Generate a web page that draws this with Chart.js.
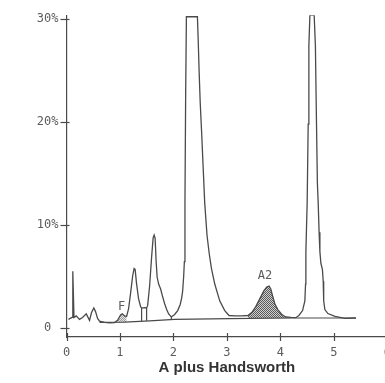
<!DOCTYPE html>
<html>
<head>
<meta charset="utf-8">
<script src="https://cdn.jsdelivr.net/npm/chart.js@4/dist/chart.umd.min.js"></script>
<style>
  html, body { margin: 0; padding: 0; background: #fff; overflow: hidden; }
  .chart-wrap { width: 400px; height: 383px; }
</style>
</head>
<body>
<div class="chart-wrap"><canvas id="chart" width="400" height="383"></canvas></div>
<script>
// trace: time (min) and % of total
const signalTimes = [
  0.037, 0.103, 0.118, 0.140, 0.182, 0.243, 0.300, 0.369, 0.431, 0.468, 0.511, 0.543, 0.581, 0.618,
  0.712, 0.805, 0.899, 0.955, 1.011, 1.043, 1.086, 1.124, 1.161, 1.199, 1.236, 1.264, 1.283, 1.311,
  1.348, 1.386, 1.404, 1.461, 1.498, 1.517, 1.554, 1.592, 1.620, 1.639, 1.657, 1.676, 1.695, 1.723,
  1.760, 1.798, 1.835, 1.873, 1.910, 1.961, 2.022, 2.079, 2.125, 2.154, 2.172, 2.191, 2.204, 2.215,
  2.228, 2.242, 2.448, 2.463, 2.481, 2.500, 2.528, 2.556, 2.584, 2.627, 2.669, 2.710, 2.772, 2.865,
  2.959, 3.039, 3.146, 3.277, 3.390, 3.464, 3.539, 3.614, 3.689, 3.745, 3.788, 3.820, 3.858, 3.895,
  3.951, 4.026, 4.101, 4.195, 4.288, 4.345, 4.414, 4.457, 4.470, 4.476, 4.500, 4.519, 4.532, 4.551,
  4.631, 4.654, 4.672, 4.691, 4.706, 4.723, 4.738, 4.757, 4.785, 4.800, 4.809, 4.831, 4.888, 5.019,
  5.206, 5.412
];
const signalPercent = [
  0.81, 1.00, 5.49, 1.00, 1.15, 0.81, 1.00, 1.35, 0.72, 1.48, 1.93, 1.57, 0.91, 0.65,
  0.52, 0.48, 0.50, 0.72, 1.24, 1.35, 1.15, 1.10, 1.86, 3.39, 5.01, 5.77, 5.68, 4.25,
  2.81, 2.05, 1.91, 1.96, 1.93, 2.15, 4.06, 6.92, 8.73, 9.02, 8.73, 6.44, 4.91, 4.25,
  3.77, 3.01, 2.34, 1.77, 1.34, 1.05, 1.29, 1.67, 2.24, 2.91, 3.58, 5.01, 6.44, 12.17,
  22.66, 30.25, 30.25, 27.91, 24.76, 21.90, 18.85, 15.51, 12.17, 9.02, 7.20, 5.77, 4.25, 2.62,
  1.67, 1.19, 1.15, 1.15, 1.19, 1.48, 2.05, 2.81, 3.58, 3.96, 4.06, 3.77, 3.01, 2.34,
  1.77, 1.29, 1.05, 1.00, 0.98, 1.19, 1.67, 2.62, 4.25, 7.40, 12.17, 19.80, 27.43, 30.40,
  30.40, 27.43, 20.75, 14.07, 12.17, 9.30, 7.40, 6.25, 5.68, 4.53, 2.62, 1.77, 1.38, 1.10,
  0.91, 0.95
];

const baselineTimes = [0.618, 1.086, 1.554, 2.022, 3.052, 4.176, 5.412];
const baselinePercent = [0.52, 0.55, 0.67, 0.81, 0.88, 0.95, 0.95];

// drop lines from valleys down to the baseline
const dropTimes = [1.404, 1.498, 1.961];
const dropTops = [1.91, 1.93, 1.05];
const dropBottoms = [0.63, 0.67, 0.80];

// shaded peaks: name, time range, baseline level, label position
const peakNames = [`F`, `A2`];
const peakStart = [0.955, 3.390];
const peakEnd = [1.124, 4.195];
const peakFloor = [0.54, 0.93];
const labelTimes = [1.03, 3.71];
const labelPercent = [2.05, 5.0];

const yTicks = [0, 10, 20, 30];
const xTicks = [0, 1, 2, 3, 4, 5, 6];

const ink = `#4a4a4a`;
const textGrey = `#5c5c5c`;

const makeDots = (dot, paper) => {
  const c = document.createElement(`canvas`);
  c.width = 2;
  c.height = 2;
  const g = c.getContext(`2d`);
  g.fillStyle = paper;
  g.fillRect(0, 0, 2, 2);
  g.fillStyle = dot;
  g.fillRect(0, 0, 1, 1);
  g.fillRect(1, 1, 1, 1);
  return g.createPattern(c, `repeat`);
};

const toPoints = (xs, ys) => xs.map((x, i) => ({x, y: ys[i]}));
const signal = toPoints(signalTimes, signalPercent);

const fillSets = peakNames.map((name, i) => ({
  label: name,
  data: signal.filter((p) => p.x >= peakStart[i] && p.x <= peakEnd[i]),
  borderWidth: 0,
  pointRadius: 0,
  fill: {value: peakFloor[i]},
  backgroundColor: i === 0 ? makeDots(`#9a9a9a`, `#e6e6e6`) : makeDots(`#5a5a5a`, `#cfcfcf`)
}));

const dropSets = dropTimes.map((t, i) => ({
  label: `drop ${i}`,
  data: [{x: t, y: dropTops[i]}, {x: t, y: dropBottoms[i]}],
  borderColor: ink,
  borderWidth: 1.2,
  pointRadius: 0,
  fill: false
}));

const axisMarks = {
  id: `axisMarks`,
  afterDraw(chart) {
    const {ctx, scales: {x, y}} = chart;
    ctx.save();
    ctx.strokeStyle = ink;
    ctx.lineWidth = 1.2;
    yTicks.forEach((v) => {
      const py = Math.round(y.getPixelForValue(v)) + 0.5;
      ctx.beginPath();
      ctx.moveTo(x.left - 6, py);
      ctx.lineTo(x.left + 3, py);
      ctx.stroke();
    });
    xTicks.forEach((v) => {
      const px = Math.round(x.getPixelForValue(v)) + 0.5;
      ctx.beginPath();
      ctx.moveTo(px, y.bottom - 4);
      ctx.lineTo(px, y.bottom + 4);
      ctx.stroke();
    });
    ctx.fillStyle = textGrey;
    ctx.font = `12px "DejaVu Sans Mono", monospace`;
    ctx.textAlign = `center`;
    ctx.textBaseline = `middle`;
    peakNames.forEach((name, i) => {
      ctx.fillText(name, x.getPixelForValue(labelTimes[i]), y.getPixelForValue(labelPercent[i]));
    });
    ctx.restore();
  }
};

new Chart(document.getElementById(`chart`), {
  type: `line`,
  data: {
    datasets: [
      {
        label: `A plus Handsworth`,
        data: signal,
        borderColor: ink,
        borderWidth: 1.3,
        pointRadius: 0,
        tension: 0,
        fill: false
      },
      {
        label: `baseline`,
        data: toPoints(baselineTimes, baselinePercent),
        borderColor: ink,
        borderWidth: 1.2,
        pointRadius: 0,
        tension: 0,
        fill: false
      },
      ...dropSets,
      ...fillSets
    ]
  },
  options: {
    responsive: false,
    animation: false,
    layout: {padding: {left: 0, top: 9, right: 12.6, bottom: 0}},
    plugins: {legend: {display: false}, tooltip: {enabled: false}},
    scales: {
      x: {
        type: `linear`,
        min: 0,
        max: 6,
        afterFit: (s) => { s.height = 46; },
        grid: {display: false, drawTicks: false},
        border: {display: true, color: ink, width: 1.2},
        ticks: {
          stepSize: 1,
          includeBounds: false,
          padding: 9,
          maxRotation: 0,
          color: textGrey,
          font: {family: `"DejaVu Sans Mono", monospace`, size: 12}
        },
        title: {
          display: true,
          text: `A plus Handsworth`,
          color: `#333`,
          padding: {top: 0, bottom: 6},
          font: {family: `"Liberation Sans", Arial, sans-serif`, size: 15, weight: `bold`}
        }
      },
      y: {
        min: -0.9,
        max: 30.4,
        afterFit: (s) => { s.width = 66.5; },
        grid: {display: false, drawTicks: false},
        border: {display: true, color: ink, width: 1.2},
        ticks: {
          stepSize: 10,
          includeBounds: false,
          padding: 8,
          color: textGrey,
          font: {family: `"DejaVu Sans Mono", monospace`, size: 12},
          callback: (v) => (v === 0 ? `0 ` : `${v}%`)
        }
      }
    }
  },
  plugins: [axisMarks]
});
</script>
</body>
</html>
